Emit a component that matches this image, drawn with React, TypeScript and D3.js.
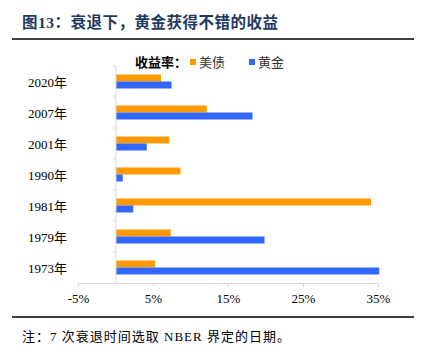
import React from "react";
import * as d3 from "d3";

const categories = ["2020年", "2007年", "2001年", "1990年", "1981年", "1979年", "1973年"];
const treasury = [6.0, 12.1, 7.1, 8.6, 34.0, 7.3, 5.2];
const gold = [7.4, 18.2, 4.1, 0.9, 2.3, 19.8, 35.1];
const xTicks = [-5, 5, 15, 25, 35];
const seriesNames = ["美债", "黄金"];
const colors = ["#FF9900", "#3366FF"];

const W = 431, H = 357;
const serif = "'Liberation Serif', 'Times New Roman', 'Noto Sans CJK SC', serif";

export default function App() {
  const x = d3.scaleLinear().domain([-5, 35]).range([78.5, 378.5]);
  const y = d3.scaleBand().domain(categories).range([66, 283]);
  const bw = 7;
  return (
    <svg width={W} height={H} style={{ position: "absolute", left: 0, top: 0, background: "#fff" }}>
      <text x={22} y={28} fontSize={15.5} fontWeight="bold" fill="#1F3A60" letterSpacing={0.5}
        fontFamily="'Liberation Serif', 'Noto Sans CJK SC', serif">图13：衰退下，黄金获得不错的收益</text>
      <line x1={12} x2={414} y1={39} y2={39} stroke="#000" strokeWidth={1.6} />

      {/* legend */}
      <text x={135} y={67} fontSize={13} fontWeight="bold" fill="#000" fontFamily="'Noto Sans CJK SC', sans-serif">收益率：</text>
      <rect x={190} y={59} width={6} height={6} fill={colors[0]} />
      <text x={199} y={67} fontSize={13} fill="#333" fontFamily="'Noto Sans CJK SC', sans-serif">{seriesNames[0]}</text>
      <rect x={249} y={59} width={6} height={6} fill={colors[1]} />
      <text x={258} y={67} fontSize={13} fill="#333" fontFamily="'Noto Sans CJK SC', sans-serif">{seriesNames[1]}</text>

      {/* bars */}
      {categories.map((c, i) => {
        const y0 = (y(c) as number) + y.bandwidth() / 2;
        return (
          <g key={c}>
            <rect x={x(0)} y={y0 - bw} width={x(treasury[i]) - x(0)} height={bw} fill={colors[0]} />
            <rect x={x(0)} y={y0} width={x(gold[i]) - x(0)} height={bw} fill={colors[1]} />
          </g>
        );
      })}

      {/* y axis */}
      <line x1={x(0)} x2={x(0)} y1={66} y2={283} stroke="#d9d9d9" strokeWidth={1} />
      {[...categories.map((c) => y(c) as number), 283].map((t, i) => (
        <line key={i} x1={x(0) - 3} x2={x(0)} y1={t} y2={t} stroke="#d9d9d9" />
      ))}
      {categories.map((c) => (
        <text key={c} x={67} y={(y(c) as number) + y.bandwidth() / 2 + 5} fontSize={13} textAnchor="end" fill="#000" fontFamily={serif}>{c}</text>
      ))}

      {/* x axis */}
      <line x1={x(-5)} x2={x(35)} y1={283.5} y2={283.5} stroke="#d9d9d9" />
      {xTicks.map((t) => (
        <g key={t}>
          <line x1={x(t)} x2={x(t)} y1={283.5} y2={287} stroke="#d9d9d9" />
          <text x={x(t)} y={303} fontSize={13} textAnchor="middle" fill="#000" fontFamily={serif}>{t}%</text>
        </g>
      ))}

      <line x1={12} x2={414} y1={317} y2={317} stroke="#000" strokeWidth={1.6} />
      <text x={22} y={341} fontSize={13} fill="#000" letterSpacing={1} fontFamily={serif}>注：7 次衰退时间选取 NBER 界定的日期。</text>
    </svg>
  );
}
